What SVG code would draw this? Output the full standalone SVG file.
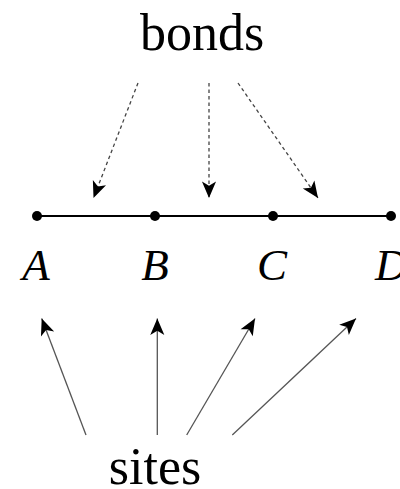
<svg xmlns="http://www.w3.org/2000/svg" width="400" height="489" viewBox="0 0 400 489">
<style>
.lbl{font-family:"Liberation Serif","Times New Roman",serif;fill:#000}
.big{font-size:52px}
.var{font-size:45px;font-style:italic}
.dash{stroke:#444;stroke-width:1.3;stroke-dasharray:3.5 3;fill:none}
.solid{stroke:#555;stroke-width:1.3;fill:none}
.chain{stroke:#000;stroke-width:1.8}
</style>
<defs>
<marker id="ah" markerUnits="userSpaceOnUse" markerWidth="20" markerHeight="20" viewBox="-15 -8 17 16" refX="0" refY="0" orient="auto">
<path d="M0,0 L-14,-6 L-10.5,0 L-14,6 Z" fill="#000"/>
</marker>
</defs>
<g id="chain">
<line class="chain" x1="37" y1="216" x2="391" y2="216"/>
</g>
<g id="site-A"><circle cx="37" cy="216" r="5"/><text class="lbl var" x="36" y="280" text-anchor="middle">A</text></g>
<g id="site-B"><circle cx="155" cy="216" r="5"/><text class="lbl var" x="155" y="280" text-anchor="middle">B</text></g>
<g id="site-C"><circle cx="273" cy="216" r="5"/><text class="lbl var" x="272" y="280" text-anchor="middle">C</text></g>
<g id="site-D"><circle cx="391" cy="216" r="5"/><text class="lbl var" x="375" y="280">D</text></g>
<g id="bonds"><text class="lbl big" x="202" y="50" text-anchor="middle">bonds</text></g>
<g id="sites"><text class="lbl big" x="155" y="484" text-anchor="middle">sites</text></g>
<g id="connectors">
<line class="dash" x1="138" y1="83" x2="93.5" y2="198" marker-end="url(#ah)"/>
<line class="dash" x1="209" y1="83" x2="209" y2="198" marker-end="url(#ah)"/>
<line class="dash" x1="238" y1="83" x2="318" y2="198" marker-end="url(#ah)"/>
<line class="solid" x1="86" y1="435" x2="41.7" y2="318.5" marker-end="url(#ah)"/>
<line class="solid" x1="157.3" y1="435" x2="157.3" y2="318.5" marker-end="url(#ah)"/>
<line class="solid" x1="186.7" y1="435" x2="255" y2="318.5" marker-end="url(#ah)"/>
<line class="solid" x1="232.3" y1="435" x2="356" y2="318.5" marker-end="url(#ah)"/>
</g>
</svg>
